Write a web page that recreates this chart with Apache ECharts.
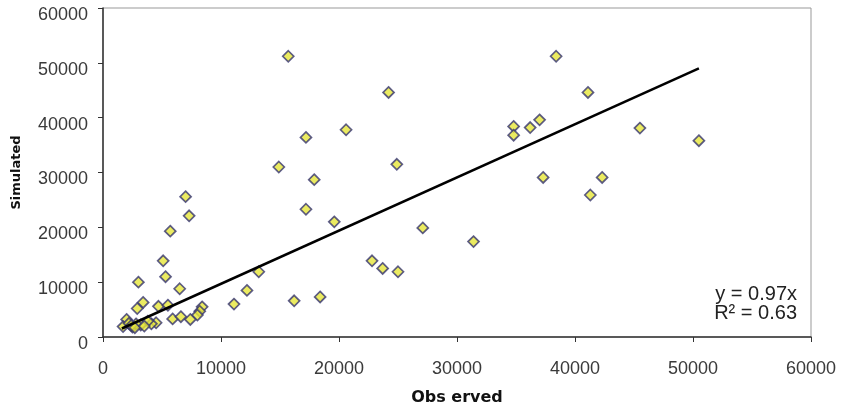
<!DOCTYPE html>
<html>
<head>
<meta charset="utf-8">
<script src="https://cdn.jsdelivr.net/npm/echarts@6/dist/echarts.min.js"></script>
<style>
html,body{margin:0;padding:0;background:#fff;}
#chart{width:841px;height:412px;}
</style>
</head>
<body>
<div id="chart"></div>
<script>
// Observed vs Simulated points [observed, simulated]
const points = [
  [15700, 51200], [24200, 44600], [20600, 37800], [17200, 36400],
  [24900, 31500], [14900, 31000], [17900, 28700], [7000, 25600],
  [7300, 22100], [17200, 23300], [19600, 21000], [5700, 19300],
  [38400, 51200], [41100, 44600], [34800, 38400], [34800, 36800],
  [36200, 38200], [37000, 39600], [45500, 38100], [50500, 35800],
  [37300, 29100], [42300, 29100], [41300, 25900], [27100, 19900],
  [31400, 17400], [22800, 13900], [23700, 12500], [25000, 11900],
  [16200, 6600], [18400, 7300], [13200, 11900], [12200, 8500],
  [11100, 6000], [5100, 13900], [5300, 11000], [3000, 10000],
  [6500, 8800], [3400, 6300], [2900, 5200], [4700, 5600],
  [5500, 5800], [8400, 5500], [8200, 4700], [8000, 4000],
  [5900, 3300], [6600, 3700], [7400, 3200], [4500, 2600],
  [4100, 2400], [3800, 2900], [3200, 2200], [2000, 3200],
  [1700, 1900], [2200, 2500], [2500, 1800], [2800, 2400],
  [2400, 2100], [2700, 1700], [3500, 2000]
];
// Trend line endpoints
const trendX = [1600, 50500];
const trendY = [1550, 49000];
const equationText = 'y = 0.97x';
const r2Text = 'R² = 0.63';
const xTitle = 'Obs erved';
const yTitle = 'Simulated';

const chart = echarts.init(document.getElementById('chart'));
chart.setOption({
  animation: false,
  backgroundColor: '#fff',
  grid: {left: 103, right: 30, top: 8, bottom: 75, show: true, borderColor: '#999', borderWidth: 1},
  xAxis: {
    type: 'value', min: 0, max: 60000, interval: 10000,
    name: xTitle, nameLocation: 'middle', nameGap: 53,
    nameTextStyle: {fontFamily: 'DejaVu Sans', fontWeight: 'bold', fontSize: 16, color: '#111'},
    axisLine: {show: true, lineStyle: {color: '#333', width: 1.5}},
    axisTick: {show: true, inside: false, length: 5, lineStyle: {color: '#333'}},
    axisLabel: {fontFamily: 'Liberation Sans', fontSize: 18, color: '#3a3a3a', margin: 23, formatter: v => String(v)},
    splitLine: {show: false}
  },
  yAxis: {
    type: 'value', min: 0, max: 60000, interval: 10000,
    name: yTitle, nameLocation: 'middle', nameGap: 80,
    nameTextStyle: {fontFamily: 'DejaVu Sans', fontWeight: 'bold', fontSize: 13, color: '#111'},
    axisLine: {show: true, lineStyle: {color: '#333', width: 1.5}},
    axisTick: {show: true, inside: false, length: 5, lineStyle: {color: '#333'}},
    axisLabel: {fontFamily: 'Liberation Sans', fontSize: 18, color: '#3a3a3a', margin: 15,
      formatter: v => '{a|' + v + '}',
      rich: {a: {fontFamily: 'Liberation Sans', fontSize: 18, color: '#3a3a3a', padding: [14, 0, 0, 0]}}},
    splitLine: {show: false}
  },
  series: [
    {
      type: 'line',
      data: trendX.map((x, i) => [x, trendY[i]]),
      symbol: 'none',
      lineStyle: {color: '#000', width: 2.5},
      z: 3
    },
    {
      type: 'scatter',
      data: points,
      symbol: 'diamond',
      symbolSize: [11, 11],
      itemStyle: {color: '#e6e63a', borderColor: '#36346e', borderWidth: 1.7},
      z: 2
    }
  ],
  graphic: [
    {type: 'text', right: 44, top: 284, style: {text: equationText, fontFamily: 'Liberation Sans', fontSize: 20, fill: '#222', textAlign: 'right'}},
    {type: 'text', right: 44, top: 303, style: {text: r2Text, fontFamily: 'Liberation Sans', fontSize: 20, fill: '#222', textAlign: 'right'}}
  ]
});
</script>
</body>
</html>
